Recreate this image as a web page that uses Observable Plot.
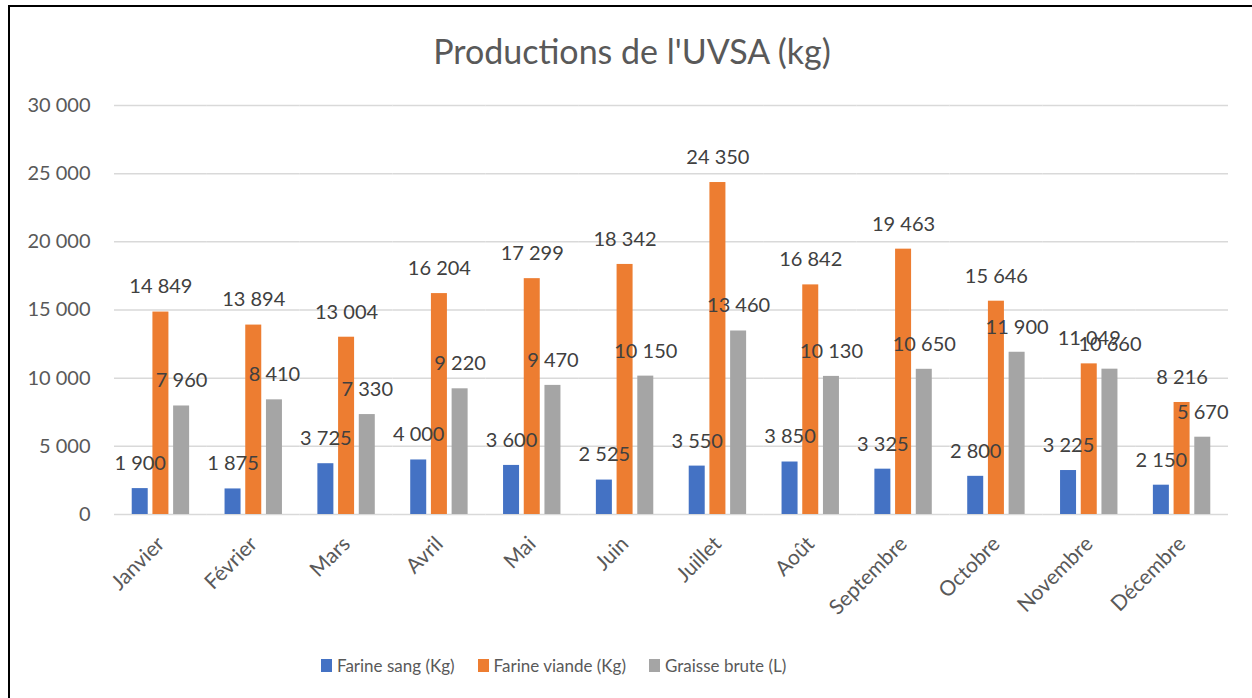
<!DOCTYPE html>
<html>
<head>
<meta charset="utf-8">
<script src="https://cdn.jsdelivr.net/npm/d3@7"></script>
<script src="https://cdn.jsdelivr.net/npm/@observablehq/plot@0.6"></script>
<style>
  html, body { margin: 0; padding: 0; background: #fff; overflow: hidden; }
  body { width: 1252px; height: 698px; position: relative; font-family: Lato, "Open Sans", sans-serif; }
  #frame { position: absolute; left: 8px; top: 5px; width: 1260px; height: 710px; border-left: 2px solid #000; border-top: 2px solid #000; }
  #title { position: absolute; left: 0; top: 30px; width: 1264px; text-align: center; font-size: 34px; line-height: 42px; color: #595959; }
  #chart { position: absolute; left: 0; top: 80px; }
  #legend { position: absolute; left: 321px; top: 655px; display: flex; align-items: center; font-size: 17px; color: #595959; }
  .item { display: flex; align-items: center; margin-right: 23px; }
  .key { width: 11px; height: 13px; margin-right: 5px; }
</style>
</head>
<body>
<div id="frame"></div>
<div id="title">Productions de l'UVSA (kg)</div>
<div id="chart"></div>
<div id="legend"></div>
<script>
const months = ["Janvier","Février","Mars","Avril","Mai","Juin","Juillet","Août","Septembre","Octobre","Novembre","Décembre"];
const seriesNames = ["Farine sang (Kg)","Farine viande (Kg)","Graisse brute (L)"];
const seriesColors = ["#4472C4","#ED7D31","#A5A5A5"];
const farineSang = [1900,1875,3725,4000,3600,2525,3550,3850,3325,2800,3225,2150];
const farineViande = [14849,13894,13004,16204,17299,18342,24350,16842,19463,15646,11049,8216];
const graisseBrute = [7960,8410,7330,9220,9470,10150,13460,10130,10650,11900,10660,5670];
const yTicks = [0,5000,10000,15000,20000,25000,30000];

const seriesValues = [farineSang, farineViande, graisseBrute];
const data = [];
months.forEach((m, i) => {
  seriesNames.forEach((s, j) => data.push({month: m, series: s, value: seriesValues[j][i]}));
});

const locale = d3.formatLocale({decimal: ",", thousands: " ", grouping: [3], currency: ["", ""]});
const fmt = locale.format(",d");

const chart = Plot.plot({
  width: 1252,
  height: 565,
  marginLeft: 114,
  marginRight: 24,
  marginTop: 25,
  marginBottom: 131,
  style: {fontFamily: "Lato, 'Open Sans', sans-serif", background: "transparent", overflow: "visible"},
  fx: {domain: months, padding: 0, round: false, label: null},
  x: {domain: seriesNames, paddingInner: 0.227, paddingOuter: 0.856, round: false, axis: null},
  y: {domain: [0, 30000], label: null},
  color: {domain: seriesNames, range: seriesColors},
  marks: [
    Plot.gridY(yTicks, {stroke: "#d9d9d9", strokeOpacity: 1, strokeWidth: 1.5}),
    Plot.barY(data, {fx: "month", x: "series", y: "value", fill: "series"}),
    Plot.text(data, {fx: "month", x: "series", y: "value", text: d => fmt(d.value), dy: -25, fill: "#404040", fontSize: 20}),
    Plot.axisY(yTicks, {tickSize: 0, tickPadding: 24, tickFormat: fmt, fontSize: 20, color: "#595959", label: null}),
    Plot.axisFx({anchor: "bottom", tickSize: 0, tickPadding: 26, tickRotate: -45, fontSize: 21, color: "#595959", label: null})
  ]
});
document.getElementById("chart").appendChild(chart);

const legend = document.getElementById("legend");
seriesNames.forEach((s, j) => {
  const item = document.createElement("div");
  item.className = "item";
  const key = document.createElement("span");
  key.className = "key";
  key.style.background = seriesColors[j];
  const label = document.createElement("span");
  label.textContent = s;
  item.appendChild(key);
  item.appendChild(label);
  legend.appendChild(item);
});
</script>
</body>
</html>
